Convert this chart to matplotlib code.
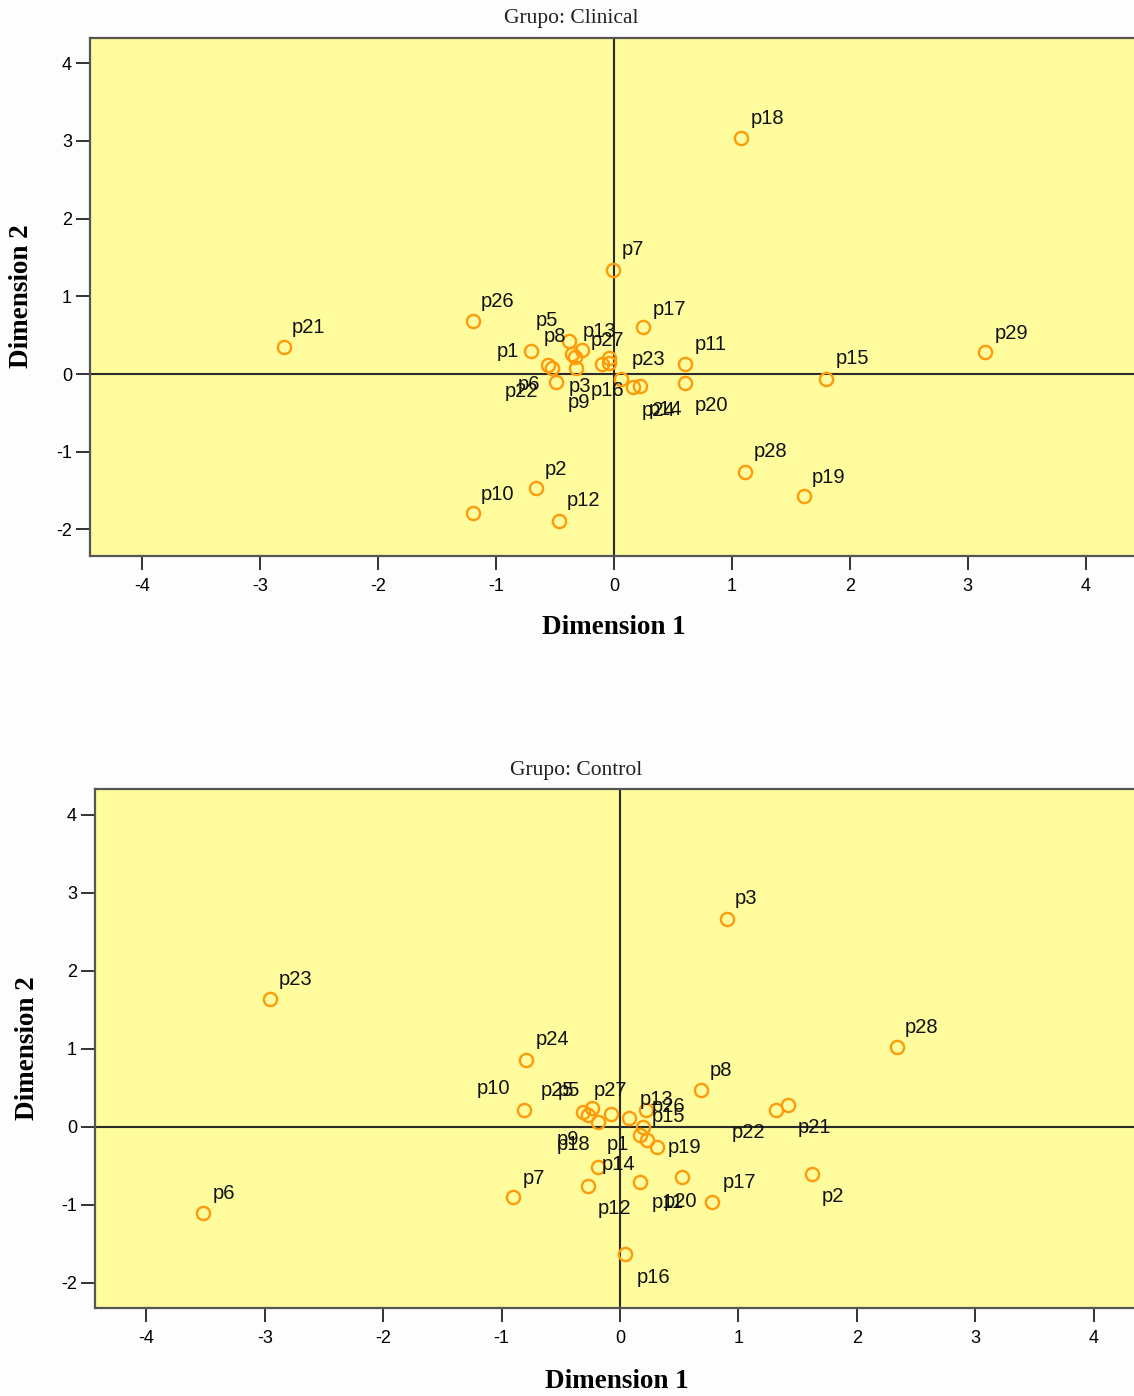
import matplotlib
matplotlib.use("Agg")
import matplotlib.pyplot as plt

# ---------------- data ----------------
clin_names = ["p1", "p2", "p3", "p4", "p5", "p6", "p7", "p8", "p9", "p10",
              "p11", "p12", "p13", "p14", "p15", "p16", "p17", "p18", "p19", "p20",
              "p21", "p22", "p23", "p24", "p25", "p26", "p27", "p28", "p29"]
clin_dim1 = [-0.70, -0.66, -0.32, -0.04, -0.38, -0.53, -0.01, -0.33, -0.49, -1.20,
             0.60, -0.47, -0.36, 0.22, 1.80, -0.10, 0.25, 1.08, 1.61, 0.60,
             -2.80, -0.56, 0.06, 0.16, -0.04, -1.20, -0.27, 1.11, 3.15]
clin_dim2 = [0.30, -1.47, 0.08, 0.14, 0.42, 0.08, 1.34, 0.22, -0.10, -1.79,
             0.13, -1.89, 0.26, -0.15, -0.06, 0.13, 0.60, 3.04, -1.57, -0.12,
             0.35, 0.12, -0.06, -0.17, 0.21, 0.68, 0.31, -1.26, 0.28]
clin_hidden = ["p4", "p25"]

ctrl_names = ["p1", "p2", "p3", "p4", "p5", "p6", "p7", "p8", "p9", "p10",
              "p11", "p12", "p13", "p14", "p15", "p16", "p17", "p18", "p19", "p20",
              "p21", "p22", "p23", "p24", "p25", "p26", "p27", "p28"]
ctrl_dim1 = [0.17, 1.62, 0.90, 0.23, -0.24, -3.52, -0.90, 0.68, -0.27, -0.81,
             0.17, -0.27, 0.08, -0.19, 0.19, 0.04, 0.78, -0.19, 0.31, 0.52,
             1.42, 1.32, -2.96, -0.79, -0.31, 0.22, -0.08, 2.34]
ctrl_dim2 = [-0.10, -0.60, 2.67, -0.17, 0.24, -1.10, -0.90, 0.47, 0.15, 0.22,
             -0.71, -0.76, 0.12, -0.51, 0.00, -1.63, -0.96, 0.06, -0.26, -0.64,
             0.28, 0.22, 1.64, 0.86, 0.19, 0.22, 0.17, 1.03]
ctrl_hidden = ["p4"]

ticks_x = [-4, -3, -2, -1, 0, 1, 2, 3, 4]
ticks_y = [-2, -1, 0, 1, 2, 3, 4]

# label placement (pixel offsets of text left edge / vertical centre from point)
clin_offsets = {
    "p1": (-35, -1), "p2": (9, 19), "p3": (-8, -19), "p5": (-34, 21), "p6": (-34, -17),
    "p7": (9, 20), "p8": (-31, 20), "p9": (11, -21), "p10": (8, 19), "p11": (10, 19),
    "p12": (8, 20), "p13": (11, 22), "p14": (9, -24), "p15": (9, 20), "p16": (-12, -27),
    "p17": (9, 18), "p18": (9, 19), "p19": (8, 19), "p20": (10, -22), "p21": (8, 19),
    "p22": (-43, -27), "p23": (11, 19), "p24": (9, -23), "p26": (8, 20), "p27": (9, 9),
    "p28": (9, 20), "p29": (9, 19),
}
ctrl_offsets = {
    "p1": (-33, -10), "p2": (10, -23), "p3": (8, 20), "p5": (-34, 18), "p6": (9, 19),
    "p7": (9, 19), "p8": (9, 20), "p9": (-31, -24), "p10": (-47, 21), "p11": (12, -20),
    "p12": (10, -22), "p13": (10, 18), "p14": (4, 2), "p15": (9, 10), "p16": (12, -23),
    "p17": (10, 19), "p18": (-41, -22), "p19": (11, 0), "p20": (-18, -25), "p21": (10, -22),
    "p22": (-45, -23), "p23": (9, 20), "p24": (9, 20), "p25": (-43, 22), "p26": (6, 3),
    "p27": (-17, 23), "p28": (8, 19),
}

W, H = 1134, 1396
FILL = "#FEFC9C"
ORANGE = "#FF9A0A"
SANS = "Liberation Sans"
SERIF = "Liberation Serif"

fig = plt.figure(figsize=(W / 100, H / 100), dpi=100, facecolor="#FDFDFD")


def panel(rect, xlim, ylim, names, d1, d2, hidden, offsets, title, title_xy,
          xlab_xy, ylab_xy):
    l, t, r, b = rect
    ax = fig.add_axes([l / W, 1 - b / H, (r - l) / W, (b - t) / H])
    ax.set_facecolor(FILL)
    ax.set_xlim(*xlim)
    ax.set_ylim(*ylim)
    ax.axhline(0, color="#2a2a2a", lw=1.5, zorder=1)
    ax.axvline(0, color="#2a2a2a", lw=1.5, zorder=1)
    ax.plot(d1, d2, linestyle="none", marker="o", markersize=9.5,
            markerfacecolor="none", markeredgecolor=ORANGE, markeredgewidth=1.7,
            zorder=3)
    for n, x, y in zip(names, d1, d2):
        if n in hidden:
            continue
        dx, dy = offsets.get(n, (9, 19))
        ax.annotate(n, (x, y), xytext=(dx, dy), textcoords="offset pixels",
                    ha="left", va="center", fontsize=14.5, family=SANS,
                    color="#111111", zorder=4)
    ax.set_xticks(ticks_x)
    ax.set_yticks(ticks_y)
    ax.set_xticklabels([str(v) for v in ticks_x], family=SANS, fontsize=13)
    ax.set_yticklabels([str(v) for v in ticks_y], family=SANS, fontsize=13)
    ax.tick_params(axis="x", direction="out", length=10, width=1.3, pad=6,
                   color="#222222")
    ax.tick_params(axis="y", direction="out", length=10, width=1.3, pad=3,
                   color="#222222")
    for s in ["left", "bottom", "top"]:
        ax.spines[s].set_color("#555555")
        ax.spines[s].set_linewidth(1.6)
    ax.spines["right"].set_visible(False)
    fig.text(title_xy[0] / W, 1 - title_xy[1] / H, title, family=SERIF,
             fontsize=15.5, ha="center", va="center", color="#222222")
    fig.text(xlab_xy[0] / W, 1 - xlab_xy[1] / H, "Dimension 1", family=SERIF,
             fontweight="bold", fontsize=19.5, ha="center", va="center")
    fig.text(ylab_xy[0] / W, 1 - ylab_xy[1] / H, "Dimension 2", family=SERIF,
             fontweight="bold", fontsize=19.5, ha="center", va="center", rotation=90)
    return ax


panel((90, 38, 1134, 556), (-4.444, 4.41), (-2.342, 4.324),
      clin_names, clin_dim1, clin_dim2, clin_hidden, clin_offsets,
      "Grupo: Clinical", (571, 19), (614, 628), (22, 296))

panel((95, 789, 1134, 1308), (-4.434, 4.341), (-2.321, 4.333),
      ctrl_names, ctrl_dim1, ctrl_dim2, ctrl_hidden, ctrl_offsets,
      "Grupo: Control", (576, 771), (617, 1381), (28, 1048))

fig.savefig("out.png", dpi=100, facecolor=fig.get_facecolor())
